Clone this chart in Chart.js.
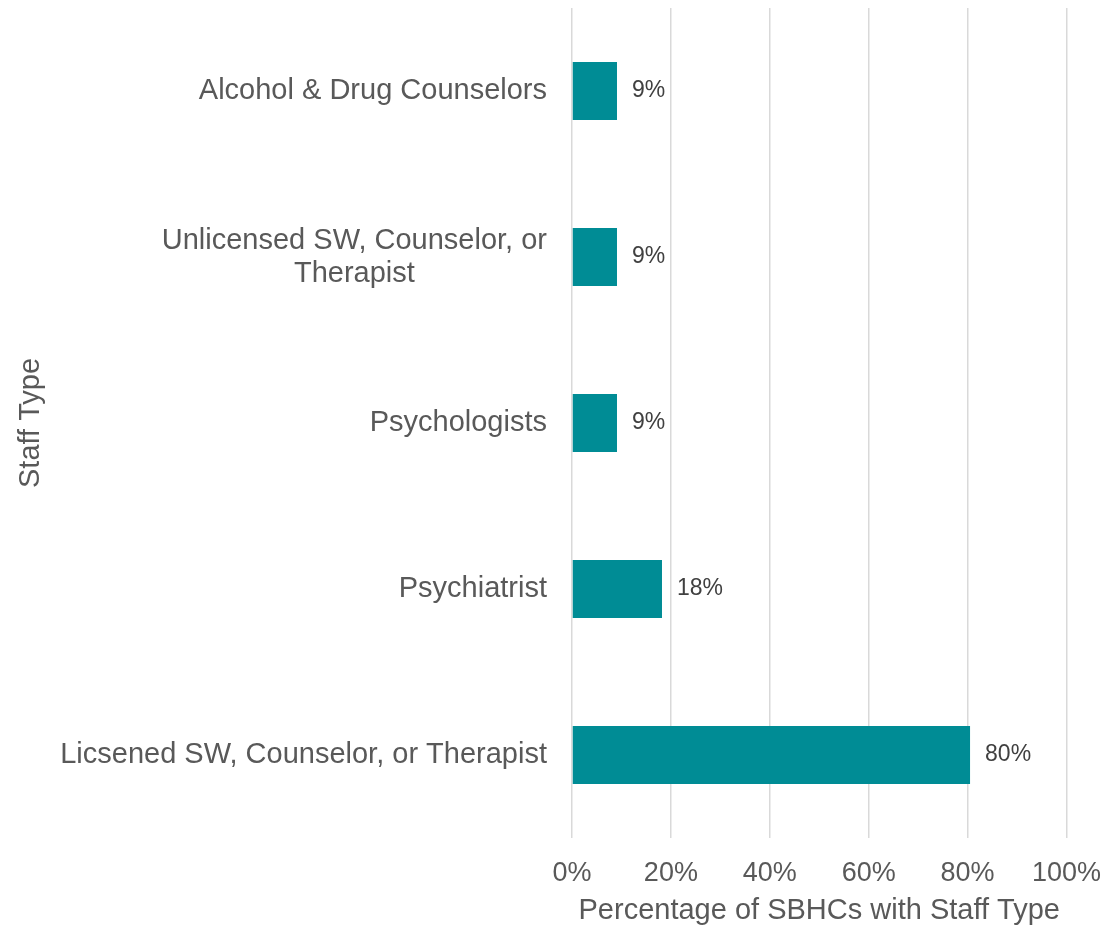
<!DOCTYPE html>
<html>
<head>
<meta charset="utf-8">
<script src="https://cdn.jsdelivr.net/npm/chart.js@4/dist/chart.umd.min.js"></script>
<style>
  html, body { margin: 0; padding: 0; background: #ffffff; }
  #wrap { width: 1120px; height: 928px; }
</style>
</head>
<body>
<div id="wrap"><canvas id="staffChart"></canvas></div>
<script>
const categories = [
  ["Alcohol & Drug Counselors"],
  ["Unlicensed SW, Counselor, or", "Therapist"],
  ["Psychologists"],
  ["Psychiatrist"],
  ["Licsened SW, Counselor, or Therapist"],
];
const percentages = [9.1, 9.1, 9.1, 18.2, 80.5];
const valueLabels = ["9%", "9%", "9%", "18%", "80%"];
const xTickValues = [0, 20, 40, 60, 80, 100];

const textColor = "#595959";
const fontFamily = "'Liberation Sans', Arial, sans-serif";

// y labels drawn by hand so wrapped lines are centred on each other
const categoryLabels = {
  id: "categoryLabels",
  afterDraw(chart) {
    const ctx = chart.ctx;
    const yScale = chart.scales.y;
    const xRight = chart.chartArea.left - 25;
    const lineH = 33;
    ctx.save();
    ctx.font = "29px " + fontFamily;
    ctx.fillStyle = textColor;
    ctx.textAlign = "center";
    ctx.textBaseline = "middle";
    categories.forEach(function (lines, i) {
      const y = yScale.getPixelForTick(i);
      let widest = 0;
      lines.forEach(function (l) {
        widest = Math.max(widest, ctx.measureText(l).width);
      });
      const cx = xRight - widest / 2;
      lines.forEach(function (l, j) {
        ctx.fillText(l, cx, y + (j - (lines.length - 1) / 2) * lineH);
      });
    });
    ctx.restore();
  },
};

const barValueLabels = {
  id: "barValueLabels",
  afterDatasetsDraw(chart) {
    const ctx = chart.ctx;
    const meta = chart.getDatasetMeta(0);
    ctx.save();
    ctx.font = "23px " + fontFamily;
    ctx.fillStyle = "#404040";
    ctx.textAlign = "left";
    ctx.textBaseline = "middle";
    meta.data.forEach(function (bar, i) {
      ctx.fillText(valueLabels[i], bar.x + 15, bar.y);
    });
    ctx.restore();
  },
};

new Chart(document.getElementById("staffChart").getContext("2d"), {
  type: "bar",
  data: {
    labels: categories,
    datasets: [
      {
        data: percentages,
        backgroundColor: "#008C95",
        borderWidth: 0,
        barPercentage: 0.35,
        categoryPercentage: 1,
      },
    ],
  },
  options: {
    indexAxis: "y",
    responsive: true,
    maintainAspectRatio: false,
    animation: false,
    layout: {
      padding: { top: 8, right: 19, left: 10, bottom: 0 },
    },
    plugins: {
      legend: { display: false },
      tooltip: { enabled: false },
    },
    scales: {
      x: {
        min: 0,
        max: 100,
        afterBuildTicks(scale) {
          scale.ticks = xTickValues.map(function (v) {
            return { value: v };
          });
        },
        afterFit(scale) {
          scale.height = 90;
        },
        grid: {
          color: "#d9d9d9",
          lineWidth: 1.5,
          drawTicks: false,
        },
        border: { display: false },
        ticks: {
          color: textColor,
          font: { family: fontFamily, size: 27 },
          padding: 19,
          callback: function (v) {
            return v + "%";
          },
        },
        title: {
          display: true,
          text: "Percentage of SBHCs with Staff Type",
          color: textColor,
          font: { family: fontFamily, size: 29 },
          padding: { top: 0, bottom: 0 },
        },
      },
      y: {
        grid: { display: false },
        border: { display: false },
        ticks: {
          color: "rgba(0,0,0,0)",
          font: { family: fontFamily, size: 29 },
          padding: 25,
        },
        afterFit(scale) {
          scale.width = 562;
          scale.paddingTop = 0;
          scale.paddingBottom = 0;
        },
        title: {
          display: true,
          text: "Staff Type",
          color: textColor,
          font: { family: fontFamily, size: 29 },
        },
      },
    },
  },
  plugins: [categoryLabels, barValueLabels],
});
</script>
</body>
</html>
